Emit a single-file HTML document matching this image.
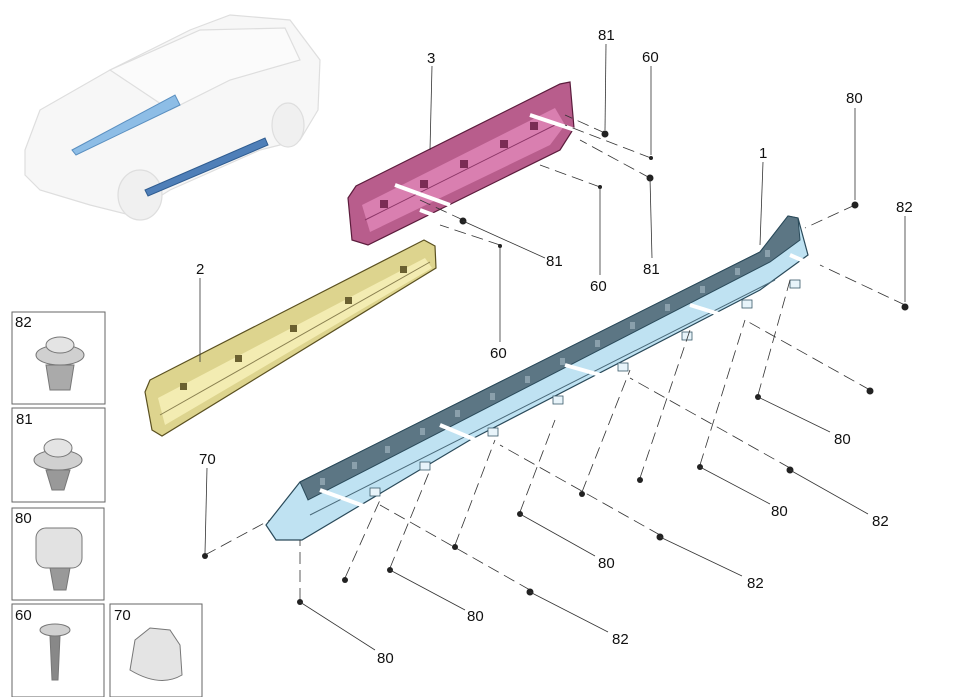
<!DOCTYPE html>
<html><head><meta charset="utf-8"><style>
html,body{margin:0;padding:0;background:#fff;}
svg{display:block;font-family:"Liberation Sans",sans-serif;}
text{font-size:15px;fill:#111;}
</style></head><body>
<svg width="957" height="697" viewBox="0 0 957 697" xmlns="http://www.w3.org/2000/svg">
<!-- car sketch -->
<g stroke="#dedede" fill="#f7f7f7" stroke-width="1.2">
<path d="M25,150 L40,110 L110,70 L190,30 L230,15 L290,20 L320,60 L318,110 L300,140 L260,150 L170,190 L130,215 L90,205 L40,190 L25,175 Z"/>
<path d="M110,70 L200,30 L285,28 L300,60 L230,80 L170,110 Z" fill="#fbfbfb"/>
<ellipse cx="140" cy="195" rx="22" ry="25" fill="#f0f0f0"/>
<ellipse cx="288" cy="125" rx="16" ry="22" fill="#f0f0f0"/>
</g>
<path d="M72,150 L175,95 L180,105 L76,155 Z" fill="#8dbde6" stroke="#5a8fc0"/>
<path d="M145,190 L265,138 L268,145 L148,196 Z" fill="#4f7fb8" stroke="#2f5c90"/>

<!-- pink part 3 -->
<path d="M348,198 L356,186 L560,84 L570,82 L574,128 L560,150 L368,245 L352,240 Z" fill="#b85d8c" stroke="#5b1c3c" stroke-width="1.2"/>
<path d="M362,205 L555,108 L565,125 L550,145 L370,232 Z" fill="#d97fb0"/>
<path d="M365,220 L555,125" stroke="#8a3466" stroke-width="1" fill="none"/>
<g fill="#7a2c55"><rect x="380" y="200" width="8" height="8"/><rect x="420" y="180" width="8" height="8"/><rect x="460" y="160" width="8" height="8"/><rect x="500" y="140" width="8" height="8"/><rect x="530" y="122" width="8" height="8"/></g>
<!-- yellow part 2 -->
<path d="M145,392 L150,380 L424,240 L435,246 L436,268 L162,436 L152,430 Z" fill="#ddd48e" stroke="#5a5020" stroke-width="1.2"/>
<path d="M158,398 L425,258 L432,268 L165,425 Z" fill="#f3ecb2"/>
<path d="M160,415 L430,262" stroke="#8a8050" fill="none"/>
<g fill="#6a6030"><rect x="180" y="383" width="7" height="7"/><rect x="235" y="355" width="7" height="7"/><rect x="290" y="325" width="7" height="7"/><rect x="345" y="297" width="7" height="7"/><rect x="400" y="266" width="7" height="7"/></g>
<!-- blue part 1 -->
<path d="M266,525 L300,482 L760,252 L788,216 L798,218 L808,255 L760,290 L470,440 L302,540 L276,540 Z" fill="#bfe2f2" stroke="#2a4a5a" stroke-width="1.2"/>
<path d="M300,482 L760,252 L788,216 L798,218 L800,240 L770,262 L308,500 Z" fill="#5c7684" stroke="#2a4a5a"/>
<path d="M310,515 L775,280" stroke="#4a6a7a" fill="none"/>
<g fill="#e8f4fa" stroke="#3a5a6a" stroke-width="0.8">
<rect x="370" y="488" width="10" height="8"/><rect x="420" y="462" width="10" height="8"/><rect x="488" y="428" width="10" height="8"/><rect x="553" y="396" width="10" height="8"/><rect x="618" y="363" width="10" height="8"/><rect x="682" y="332" width="10" height="8"/><rect x="742" y="300" width="10" height="8"/><rect x="790" y="280" width="10" height="8"/>
</g>
<g fill="#8aa0ac"><rect x="320" y="478" width="5" height="7"/><rect x="352" y="462" width="5" height="7"/><rect x="385" y="446" width="5" height="7"/><rect x="420" y="428" width="5" height="7"/><rect x="455" y="410" width="5" height="7"/><rect x="490" y="393" width="5" height="7"/><rect x="525" y="376" width="5" height="7"/><rect x="560" y="358" width="5" height="7"/><rect x="595" y="340" width="5" height="7"/><rect x="630" y="322" width="5" height="7"/><rect x="665" y="304" width="5" height="7"/><rect x="700" y="286" width="5" height="7"/><rect x="735" y="268" width="5" height="7"/><rect x="765" y="250" width="5" height="7"/></g>

<!-- white rods -->
<g stroke="#fff" stroke-width="4">
<line x1="320" y1="490" x2="375" y2="510"/><line x1="440" y1="425" x2="495" y2="448"/>
<line x1="565" y1="365" x2="625" y2="382"/><line x1="690" y1="305" x2="745" y2="322"/>
<line x1="790" y1="255" x2="820" y2="268"/><line x1="530" y1="115" x2="590" y2="135"/>
<line x1="395" y1="185" x2="450" y2="205"/><line x1="420" y1="210" x2="460" y2="225"/>
</g>

<!-- dashed lines -->
<g stroke="#333" stroke-width="0.8" stroke-dasharray="12,6" fill="none">
<line x1="205" y1="555" x2="270" y2="520"/>
<line x1="300" y1="600" x2="300" y2="540"/>
<line x1="345" y1="578" x2="380" y2="500"/>
<line x1="390" y1="568" x2="430" y2="470"/>
<line x1="455" y1="545" x2="495" y2="440"/>
<line x1="520" y1="512" x2="555" y2="420"/>
<line x1="582" y1="492" x2="630" y2="370"/>
<line x1="640" y1="478" x2="690" y2="330"/>
<line x1="700" y1="465" x2="745" y2="320"/>
<line x1="758" y1="395" x2="790" y2="280"/>
<line x1="530" y1="590" x2="380" y2="505"/>
<line x1="660" y1="535" x2="500" y2="445"/>
<line x1="790" y1="468" x2="630" y2="378"/>
<line x1="870" y1="390" x2="745" y2="320"/>
<line x1="905" y1="305" x2="820" y2="265"/>
<line x1="855" y1="205" x2="805" y2="228"/>
<line x1="605" y1="133" x2="565" y2="115"/>
<line x1="650" y1="178" x2="580" y2="140"/>
<line x1="651" y1="158" x2="565" y2="125"/>
<line x1="600" y1="187" x2="540" y2="165"/>
<line x1="500" y1="245" x2="440" y2="225"/>
<line x1="463" y1="220" x2="420" y2="200"/>
</g>

<!-- fasteners -->
<g fill="#222">
<circle cx="205" cy="556" r="3"/><circle cx="300" cy="602" r="3"/><circle cx="345" cy="580" r="3"/>
<circle cx="390" cy="570" r="3"/><circle cx="455" cy="547" r="3"/><circle cx="520" cy="514" r="3"/>
<circle cx="582" cy="494" r="3"/><circle cx="640" cy="480" r="3"/><circle cx="700" cy="467" r="3"/>
<circle cx="758" cy="397" r="3"/><circle cx="530" cy="592" r="3.5"/><circle cx="660" cy="537" r="3.5"/>
<circle cx="790" cy="470" r="3.5"/><circle cx="870" cy="391" r="3.5"/><circle cx="905" cy="307" r="3.5"/>
<circle cx="855" cy="205" r="3.5"/><circle cx="605" cy="134" r="3.5"/><circle cx="650" cy="178" r="3.5"/>
<circle cx="463" cy="221" r="3.5"/><circle cx="651" cy="158" r="2"/><circle cx="600" cy="187" r="2"/><circle cx="500" cy="246" r="2"/>
</g>

<!-- leader lines -->
<g stroke="#333" stroke-width="0.8" fill="none">
<line x1="432" y1="66" x2="430" y2="150"/>
<line x1="606" y1="44" x2="605" y2="130"/>
<line x1="651" y1="66" x2="651" y2="155"/>
<line x1="855" y1="108" x2="855" y2="200"/>
<line x1="905" y1="216" x2="905" y2="302"/>
<line x1="763" y1="162" x2="760" y2="245"/>
<line x1="200" y1="278" x2="200" y2="362"/>
<line x1="463" y1="221" x2="545" y2="258"/>
<line x1="600" y1="187" x2="600" y2="275"/>
<line x1="650" y1="178" x2="652" y2="258"/>
<line x1="500" y1="246" x2="500" y2="342"/>
<line x1="207" y1="468" x2="205" y2="553"/>
<line x1="758" y1="397" x2="830" y2="432"/>
<line x1="700" y1="467" x2="770" y2="504"/>
<line x1="520" y1="514" x2="595" y2="556"/>
<line x1="390" y1="570" x2="465" y2="610"/>
<line x1="300" y1="602" x2="375" y2="650"/>
<line x1="790" y1="470" x2="868" y2="514"/>
<line x1="660" y1="537" x2="742" y2="576"/>
<line x1="530" y1="592" x2="608" y2="632"/>
</g>

<!-- labels -->
<text x="427" y="63">3</text><text x="598" y="40">81</text><text x="642" y="62">60</text>
<text x="846" y="103">80</text><text x="896" y="212">82</text><text x="759" y="158">1</text>
<text x="196" y="274">2</text><text x="546" y="266">81</text><text x="590" y="291">60</text>
<text x="643" y="274">81</text><text x="490" y="358">60</text><text x="199" y="464">70</text>
<text x="834" y="444">80</text><text x="771" y="516">80</text><text x="598" y="568">80</text>
<text x="467" y="621">80</text><text x="377" y="663">80</text><text x="872" y="526">82</text>
<text x="747" y="588">82</text><text x="612" y="644">82</text>

<!-- thumbnail boxes -->
<g fill="#fff" stroke="#666" stroke-width="1">
<rect x="12" y="312" width="93" height="92"/><rect x="12" y="408" width="93" height="94"/>
<rect x="12" y="508" width="92" height="92"/><rect x="12" y="604" width="92" height="93"/>
<rect x="110" y="604" width="92" height="93"/>
</g>
<text x="15" y="327">82</text><text x="16" y="424">81</text><text x="15" y="523">80</text>
<text x="15" y="620">60</text><text x="114" y="620">70</text>
<g fill="#d0d0d0" stroke="#777">
<ellipse cx="60" cy="355" rx="24" ry="10"/><ellipse cx="60" cy="345" rx="14" ry="8" fill="#e4e4e4"/>
<path d="M46,365 L74,365 L70,390 L50,390 Z" fill="#aaa"/>
<ellipse cx="58" cy="460" rx="24" ry="10"/><ellipse cx="58" cy="448" rx="14" ry="9" fill="#e4e4e4"/>
<path d="M46,470 L70,470 L64,490 L52,490 Z" fill="#999"/>
<rect x="36" y="528" width="46" height="40" rx="10" fill="#e2e2e2"/>
<path d="M50,568 L70,568 L66,590 L54,590 Z" fill="#999"/>
<ellipse cx="55" cy="630" rx="15" ry="6"/><path d="M50,636 L60,636 L58,680 L52,680 Z" fill="#888"/>
<path d="M130,670 L135,640 L150,628 L170,630 L180,645 L182,675 Q160,688 130,670 Z" fill="#e4e4e4"/>
</g>
</svg>
</body></html>
